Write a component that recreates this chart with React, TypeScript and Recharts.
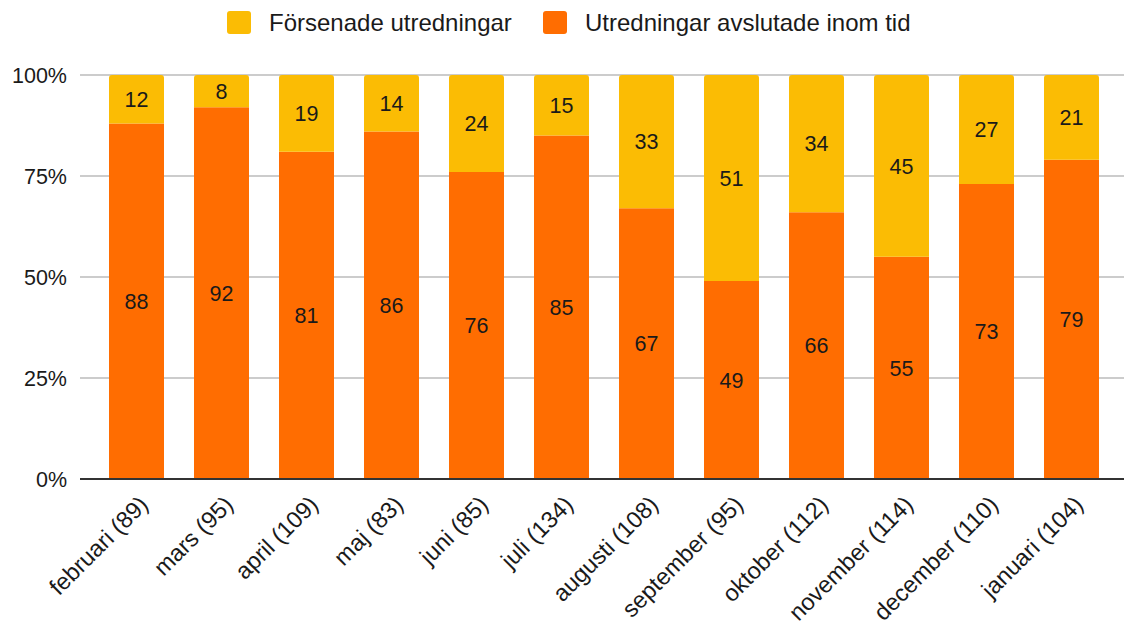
import { BarChart, Bar, XAxis, YAxis, CartesianGrid, LabelList } from "recharts";

const months = [
  "februari (89)",
  "mars (95)",
  "april (109)",
  "maj (83)",
  "juni (85)",
  "juli (134)",
  "augusti (108)",
  "september (95)",
  "oktober (112)",
  "november (114)",
  "december (110)",
  "januari (104)",
];
const delayed = [12, 8, 19, 14, 24, 15, 33, 51, 34, 45, 27, 21];
const onTime = [88, 92, 81, 86, 76, 85, 67, 49, 66, 55, 73, 79];
const yTicks = [0, 25, 50, 75, 100];
const seriesNames = ["Försenade utredningar", "Utredningar avslutade inom tid"];
const seriesColors = ["#FBBC04", "#FF6D01"];

const data = months.map((m, i) => ({ month: m, onTime: onTime[i], delayed: delayed[i] }));

const FONT = "'Liberation Sans', Arial, sans-serif";

function MonthTick(props: any) {
  const { x, y, payload } = props;
  const ax = x + 13;
  const ay = y + 27;
  return (
    <text
      x={ax}
      y={ay}
      textAnchor="end"
      fontSize={23.5}
      fill="#1a1a1a"
      fontFamily={FONT}
      transform={`rotate(-45 ${ax} ${ay})`}
    >
      {payload.value}
    </text>
  );
}

export default function App() {
  const legendLeft = [227, 543];
  return (
    <div style={{ position: "absolute", left: 0, top: 0, width: 1124, height: 626, fontFamily: FONT, background: "#fff" }}>
      {seriesNames.map((name, i) => (
        <div key={name} style={{ position: "absolute", left: legendLeft[i], top: 11, display: "flex", alignItems: "center" }}>
          <div style={{ width: 24, height: 23, background: seriesColors[i], borderRadius: 3 }} />
          <span style={{ marginLeft: 18, fontSize: 24, color: "#1a1a1a", lineHeight: "23px" }}>{name}</span>
        </div>
      ))}
      <BarChart width={1124} height={626} data={data} margin={{ top: 75, right: 0, bottom: 0, left: 0 }}>
        <CartesianGrid vertical={false} stroke="#ccc" strokeWidth={2} />
        <XAxis
          dataKey="month"
          height={147}
          padding={{ left: 14, right: 10 }}
          tickLine={false}
          tickSize={0}
          tickMargin={0}
          axisLine={{ stroke: "#333", strokeWidth: 2 }}
          tick={<MonthTick />}
          interval={0}
        />
        <YAxis
          width={80}
          domain={[0, 100]}
          ticks={yTicks}
          axisLine={false}
          tickLine={false}
          tickSize={0}
          tickMargin={13}
          tickFormatter={(v) => `${v}%`}
          tick={{ fontSize: 21.5, fill: "#1a1a1a", fontFamily: FONT }}
        />
        <Bar dataKey="onTime" stackId="a" fill={seriesColors[1]} barSize={55} isAnimationActive={false}>
          <LabelList dataKey="onTime" position="center" fontSize={21.5} fill="#1a1a1a" fontFamily={FONT} />
        </Bar>
        <Bar dataKey="delayed" stackId="a" fill={seriesColors[0]} barSize={55} radius={[3, 3, 0, 0]} isAnimationActive={false}>
          <LabelList dataKey="delayed" position="center" fontSize={21.5} fill="#1a1a1a" fontFamily={FONT} />
        </Bar>
      </BarChart>
    </div>
  );
}
